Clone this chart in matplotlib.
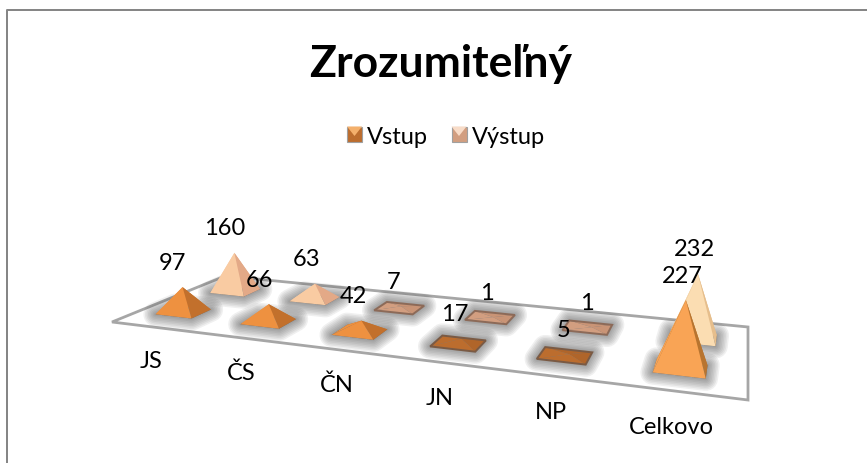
import numpy as np
import matplotlib
matplotlib.use("Agg")
import matplotlib.pyplot as plt
from matplotlib.patches import Polygon

plt.rcParams['font.family'] = ['Lato', 'DejaVu Sans']

categories = ['JS', 'ČS', 'ČN', 'JN', 'NP', 'Celkovo']
vstup = [97, 66, 42, 17, 5, 227]
vystup = [160, 63, 7, 1, 1, 232]
series_names = ['Vstup', 'Výstup']
title = 'Zrozumiteľný'

W, H = 867, 463


def homography(src, dst):
    A = []
    b = []
    for (x, y), (X, Y) in zip(src, dst):
        A.append([x, y, 1, 0, 0, 0, -x * X, -y * X])
        A.append([0, 0, 0, x, y, 1, -x * Y, -y * Y])
        b += [X, Y]
    h = np.linalg.solve(np.array(A, float), np.array(b, float))
    return np.append(h, 1).reshape(3, 3)


# floor corners in pixels: front left, front right, back right, back left
floor = [(112, 322), (748, 400), (748, 327), (225, 276)]
M = homography([(0, 0), (1, 0), (1, 1), (0, 1)], floor)


def project(u, v):
    p = M @ np.array([u, v, 1.0])
    return p[0] / p[2], p[1] / p[2]


def shadow(ax, pts, grow=8):
    # soft blurred halo, just stacked wide edges
    for k in range(grow, 0, -1):
        ax.add_patch(Polygon(pts, closed=True, fc='#404040', ec='#404040', alpha=0.08,
                             lw=k * 2.2, joinstyle='round', zorder=2))


def row_centre(i, row):
    if row == 0:
        return (i + 0.5) / len(categories) - 0.008, 0.27
    return (i + 0.5) / len(categories), 0.72


def pyramid(ax, i, row, value, cols, z):
    u, v = row_centre(i, row)
    du, dv = 0.036, 0.085
    fl = project(u - du, v - dv)
    fr = project(u + du, v - dv)
    br = project(u + du, v + dv)
    bl = project(u - du, v + dv)
    cx, cy = project(u, v)
    h = value * cy * 0.00082
    apex = (cx + 1.3 * i - 1, cy - h)
    base = [fl, fr, br, bl]
    shadow(ax, base)
    front, right, left, edge = cols
    ax.add_patch(Polygon([bl, br, apex], closed=True, fc=right, ec='none', zorder=z))
    ax.add_patch(Polygon([br, fr, apex], closed=True, fc=right, ec='none', zorder=z))
    ax.add_patch(Polygon([bl, fl, apex], closed=True, fc=left, ec='none', zorder=z))
    ax.add_patch(Polygon([fl, fr, apex], closed=True, fc=front, ec='none', zorder=z))
    if value < 20:
        ax.add_patch(Polygon(base, closed=True, fc='none', ec=edge, lw=1.4, zorder=z))
    return apex


def colours(row, value):
    if value < 20:
        if row == 0:
            return '#BC6D2E', '#B0652A', '#BC6D2E', '#7A5A44'
        return '#D29E80', '#C99476', '#D29E80', '#8C6A58'
    if value > 200:
        if row == 0:
            return '#F9A455', '#B8742F', '#F9A455', '#B8742F'
        return '#FBDDB2', '#E6BE8C', '#FBDDB2', '#E6BE8C'
    if row == 0:
        return '#EE9140', '#C2702C', '#EE9140', '#C2702C'
    return '#F9CBA2', '#E3A987', '#F9CBA2', '#E3A987'


fig = plt.figure(figsize=(W / 100, H / 100), dpi=100)
ax = fig.add_axes([0, 0, 1, 1])
ax.set_xlim(0, W)
ax.set_ylim(H, 0)
ax.axis('off')

# chart frame, right and bottom are cut off by the image
ax.plot([7, 7, W], [H, 10, 10], color='#868686', lw=1.44, zorder=1)

ax.add_patch(Polygon(floor, closed=True, fc='white', ec='#A6A6A6', lw=2, zorder=1.5))

ax.text(441, 64, title, fontsize=32, fontweight='bold', ha='center', va='center', color='black')

# legend
for x0, row, name in [(354.5, 0, series_names[0]), (459, 1, series_names[1])]:
    front, right, left, edge = colours(row, 10)
    s = 7.5
    yc = 134
    corners = [(x0 - s, yc - s), (x0 + s, yc - s), (x0 + s, yc + s), (x0 - s, yc + s)]
    centre = (x0, yc + 2)
    light = '#F4B06C' if row == 0 else '#F8DCC8'
    ax.add_patch(Polygon(corners, fc=front, ec='#A0A0A0', lw=0.8, zorder=3))
    ax.add_patch(Polygon([corners[0], corners[1], centre], fc=light, ec='none', zorder=3))
    ax.text(x0 + 12.5, 137, name, fontsize=17, ha='left', va='center', color='black')

# back row first so the front row covers it
for row, values in [(1, vystup), (0, vstup)]:
    for i, value in enumerate(values):
        apex = pyramid(ax, i, row, value, colours(row, value), 3 + (1 - row))
        ax.text(apex[0] - 10 + 1.2 * i, apex[1] - 24, str(value), fontsize=17,
                ha='center', va='center', color='black', zorder=6)

for i, name in enumerate(categories):
    x, y = project(*row_centre(i, 0))
    ax.text(x - 32 + 4.6 * i, y + 50 + 1.8 * i, name, fontsize=17,
            ha='center', va='center', color='black', zorder=6)

fig.savefig('out.png', dpi=100)
